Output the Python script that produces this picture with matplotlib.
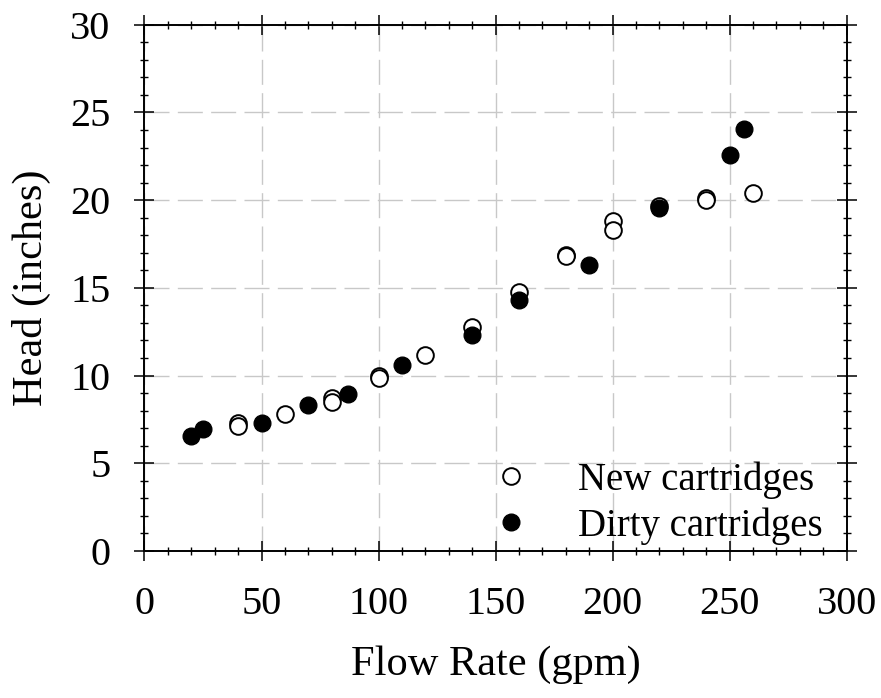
import numpy as np
import matplotlib
matplotlib.use("Agg")
import matplotlib.pyplot as plt
from matplotlib.ticker import MultipleLocator

# data
new_flow = [40, 40, 60, 80, 80, 100, 100, 120, 140, 160, 180, 180, 200, 200, 220, 240, 240, 260]
new_head = [7.3, 7.1, 7.8, 8.7, 8.5, 9.95, 9.85, 11.2, 12.75, 14.75, 16.9, 16.8, 18.8, 18.3, 19.65, 20.15, 20.0, 20.4]
dirty_flow = [20, 25, 50, 70, 87, 110, 140, 160, 190, 220, 250, 256]
dirty_head = [6.55, 6.95, 7.3, 8.3, 8.95, 10.6, 12.3, 14.3, 16.3, 19.55, 22.55, 24.05]

x_ticks = [0, 50, 100, 150, 200, 250, 300]
y_ticks = [0, 5, 10, 15, 20, 25, 30]

plt.rcParams['font.family'] = ['Liberation Serif', 'DejaVu Serif']

fig = plt.figure(figsize=(8.81, 6.98), dpi=100)
ax = fig.add_axes([0.164, 0.2106, 0.797, 0.754])

ax.plot(new_flow, new_head, 'o', ms=12, mfc='white', mec='black', mew=1.4,
        label='New cartridges', zorder=3)
ax.plot(dirty_flow, dirty_head, 'o', ms=12, mfc='black', mec='black', mew=1.0,
        label='Dirty cartridges', zorder=4)

ax.set_xlim(0, 300)
ax.set_ylim(0, 30)
ax.set_xticks(x_ticks)
ax.set_yticks(y_ticks)
ax.xaxis.set_minor_locator(MultipleLocator(10))
ax.yaxis.set_minor_locator(MultipleLocator(1))

ax.grid(True, which='major', color='#c8c8c8', linestyle=(0, (18, 6)), linewidth=1.0, zorder=0)
ax.set_axisbelow(True)

for s in ax.spines.values():
    s.set_linewidth(1.4)

ax.tick_params(which='major', direction='inout', length=15, width=1.1,
               labelsize=29, top=True, right=True)
ax.tick_params(axis='x', which='major', pad=18)
ax.tick_params(axis='y', which='major', pad=17)
ax.tick_params(which='minor', direction='inout', length=6, width=1.0,
               top=True, right=True)

ax.set_xlabel('Flow Rate (gpm)', fontsize=30.5, labelpad=16)
ax.set_ylabel('Head (inches)', fontsize=30.5, labelpad=14)

leg = ax.legend(loc='lower left', bbox_to_anchor=(0.496, 0.012), frameon=False,
                fontsize=28, handlelength=0.96, handletextpad=1.22,
                labelspacing=0.22, borderpad=0, borderaxespad=0)

fig.savefig('out.png', dpi=100)
